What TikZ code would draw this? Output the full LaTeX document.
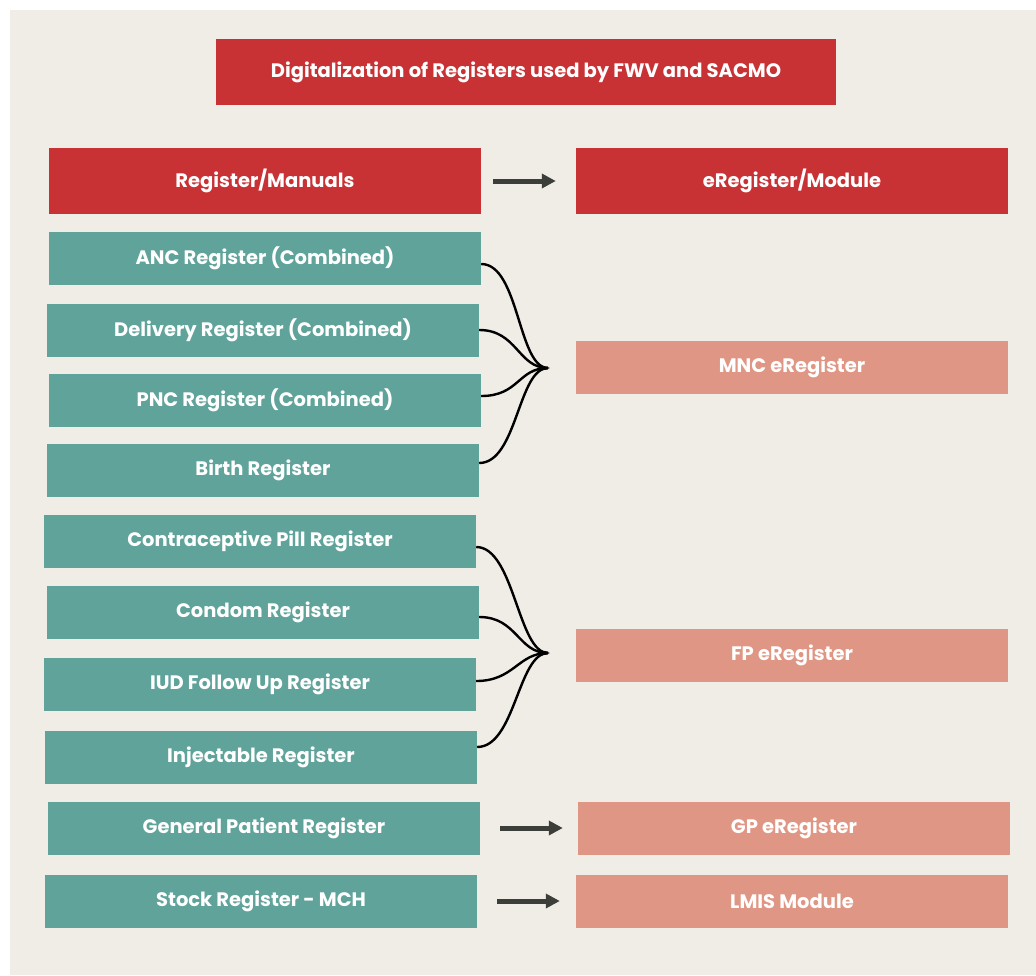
\documentclass[tikz,border=0pt]{standalone}
\usepackage{fontspec}
\setmainfont{Poppins}
\usetikzlibrary{arrows.meta}

\definecolor{regred}{HTML}{C83235}
\definecolor{regteal}{HTML}{5FA39A}
\definecolor{regsalmon}{HTML}{E09684}
\definecolor{panelbg}{HTML}{F0EDE6}
\definecolor{arrgray}{HTML}{3B3E39}

\begin{document}
\begin{tikzpicture}[
  x=1pt, y=-1pt,
  font=\fontsize{19.5}{22}\selectfont\bfseries,
  box/.style={
    fill=#1,
    text=white,
    inner sep=0pt,
    minimum width=432pt,
    minimum height=53pt,
    align=center
  },
  headbox/.style={
    box=regred,
    minimum height=66pt
  },
  arr/.style={-{Triangle[length=14pt,width=14pt]}, line width=5pt, draw=arrgray},
  curveline/.style={line width=2.4pt, black}
]

\useasboundingbox (0,0) rectangle (1036,975);
\fill[panelbg] (10,10) rectangle (1036,975);

\node[box=regred, minimum width=620pt, minimum height=66pt] (title) at (526,72) {Digitalization of Registers used by FWV and SACMO};

\node[headbox] (reg) at (265,181) {Register/Manuals};
\node[headbox] (ereg) at (792,181) {eRegister/Module};

% left column: paper registers
\node[box=regteal] (anc) at (265,258) {ANC Register (Combined)};
\node[box=regteal] (deliv) at (263,330) {Delivery Register (Combined)};
\node[box=regteal] (pnc) at (265,400) {PNC Register (Combined)};
\node[box=regteal] (birth) at (263,470) {Birth Register};
\node[box=regteal] (pill) at (260,541) {Contraceptive Pill Register};
\node[box=regteal] (condom) at (263,612) {Condom Register};
\node[box=regteal] (iud) at (260,684) {IUD Follow Up Register};
\node[box=regteal] (inject) at (261,757) {Injectable Register};
\node[box=regteal] (gpr) at (264,828) {General Patient Register};
\node[box=regteal] (stock) at (261,901) {Stock Register - MCH};

% right column: electronic modules
\node[box=regsalmon] (mnc) at (792,367) {MNC eRegister};
\node[box=regsalmon] (fp) at (792,655) {FP eRegister};
\node[box=regsalmon] (gp) at (794,828) {GP eRegister};
\node[box=regsalmon] (lmis) at (792,901) {LMIS Module};

\coordinate (mncjoin) at (548,368);
\coordinate (fpjoin) at (548,653);

% straight arrows
\draw[arr] ([xshift=12pt]reg.east) -- ([xshift=-20pt]ereg.west);
\draw[arr] ([xshift=20pt]gpr.east) -- ([xshift=-15pt]gp.west);
\draw[arr] ([xshift=20pt]stock.east) -- ([xshift=-16pt]lmis.west);

% curved joins into one module
\foreach \src/\dy in {anc/6,deliv/0,pnc/-4,birth/-7}
  \draw[curveline] ([yshift=-\dy pt]\src.east) .. controls +(38,0) and +(-30,0) .. (mncjoin);
\foreach \src/\dy in {pill/6,condom/5,iud/-3,inject/-10}
  \draw[curveline] ([yshift=-\dy pt]\src.east) .. controls +(38,0) and +(-30,0) .. (fpjoin);
\fill (mncjoin) ++(-8,-3) -- ++(10,3) -- ++(-10,3) -- cycle;
\fill (fpjoin) ++(-8,-3) -- ++(10,3) -- ++(-10,3) -- cycle;

\end{tikzpicture}
\end{document}
